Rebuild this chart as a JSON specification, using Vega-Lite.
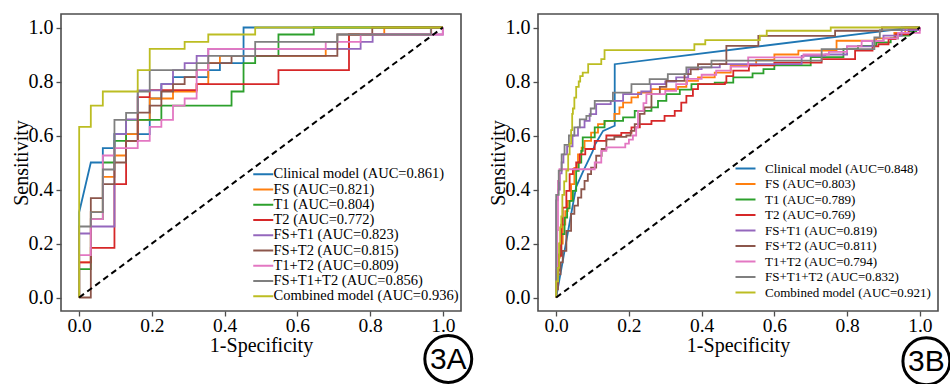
{
"$schema": "https://vega.github.io/schema/vega-lite/v6.json",
"padding": {"left": 10, "top": 13, "right": 0, "bottom": 0},
"bounds": "flush",
"spacing": 77,
"background": "white",
"config": {
  "view": {"stroke": "#4d4d4d", "strokeWidth": 1.6},
  "axis": {"labelFont": "Liberation Serif", "labelFontSize": 20, "labelColor": "black", "titleFont": "Liberation Serif", "titleFontSize": 20, "titleFontWeight": "normal", "titleColor": "black", "grid": false, "domain": false, "tickColor": "#4d4d4d", "tickSize": 5, "tickWidth": 1.3, "labelPadding": 3},
  "axisX": {"labelPadding": 0, "labelFontSize": 19.5},
  "legend": {"labelFont": "Liberation Serif", "labelColor": "black", "padding": 0, "labelLimit": 400, "symbolType": "M-2,0H2", "symbolSize": 100, "symbolStrokeWidth": 2}
},
"datasets": {
  "rocA": [
    {"model":"Clinical model (AUC=0.861)","fpr":0,"tpr":0},{"model":"Clinical model (AUC=0.861)","fpr":0,"tpr":0.316},{"model":"Clinical model (AUC=0.861)","fpr":0.032,"tpr":0.5},{"model":"Clinical model (AUC=0.861)","fpr":0.065,"tpr":0.5},{"model":"Clinical model (AUC=0.861)","fpr":0.065,"tpr":0.553},{"model":"Clinical model (AUC=0.861)","fpr":0.097,"tpr":0.553},{"model":"Clinical model (AUC=0.861)","fpr":0.097,"tpr":0.605},{"model":"Clinical model (AUC=0.861)","fpr":0.194,"tpr":0.605},{"model":"Clinical model (AUC=0.861)","fpr":0.194,"tpr":0.737},{"model":"Clinical model (AUC=0.861)","fpr":0.226,"tpr":0.737},{"model":"Clinical model (AUC=0.861)","fpr":0.226,"tpr":0.79},{"model":"Clinical model (AUC=0.861)","fpr":0.258,"tpr":0.79},{"model":"Clinical model (AUC=0.861)","fpr":0.258,"tpr":0.816},{"model":"Clinical model (AUC=0.861)","fpr":0.355,"tpr":0.816},{"model":"Clinical model (AUC=0.861)","fpr":0.355,"tpr":0.842},{"model":"Clinical model (AUC=0.861)","fpr":0.387,"tpr":0.842},{"model":"Clinical model (AUC=0.861)","fpr":0.387,"tpr":0.868},{"model":"Clinical model (AUC=0.861)","fpr":0.452,"tpr":0.868},{"model":"Clinical model (AUC=0.861)","fpr":0.452,"tpr":1},{"model":"Clinical model (AUC=0.861)","fpr":1,"tpr":1},
    {"model":"FS (AUC=0.821)","fpr":0,"tpr":0},{"model":"FS (AUC=0.821)","fpr":0,"tpr":0.13},{"model":"FS (AUC=0.821)","fpr":0.032,"tpr":0.316},{"model":"FS (AUC=0.821)","fpr":0.065,"tpr":0.447},{"model":"FS (AUC=0.821)","fpr":0.097,"tpr":0.526},{"model":"FS (AUC=0.821)","fpr":0.129,"tpr":0.605},{"model":"FS (AUC=0.821)","fpr":0.161,"tpr":0.658},{"model":"FS (AUC=0.821)","fpr":0.194,"tpr":0.737},{"model":"FS (AUC=0.821)","fpr":0.258,"tpr":0.763},{"model":"FS (AUC=0.821)","fpr":0.323,"tpr":0.79},{"model":"FS (AUC=0.821)","fpr":0.355,"tpr":0.868},{"model":"FS (AUC=0.821)","fpr":0.387,"tpr":0.895},{"model":"FS (AUC=0.821)","fpr":0.678,"tpr":0.921},{"model":"FS (AUC=0.821)","fpr":0.742,"tpr":0.974},{"model":"FS (AUC=0.821)","fpr":0.839,"tpr":1},{"model":"FS (AUC=0.821)","fpr":1,"tpr":1},
    {"model":"T1 (AUC=0.804)","fpr":0,"tpr":0},{"model":"T1 (AUC=0.804)","fpr":0,"tpr":0.105},{"model":"T1 (AUC=0.804)","fpr":0.032,"tpr":0.29},{"model":"T1 (AUC=0.804)","fpr":0.065,"tpr":0.5},{"model":"T1 (AUC=0.804)","fpr":0.097,"tpr":0.58},{"model":"T1 (AUC=0.804)","fpr":0.129,"tpr":0.658},{"model":"T1 (AUC=0.804)","fpr":0.226,"tpr":0.711},{"model":"T1 (AUC=0.804)","fpr":0.419,"tpr":0.763},{"model":"T1 (AUC=0.804)","fpr":0.452,"tpr":0.868},{"model":"T1 (AUC=0.804)","fpr":0.484,"tpr":0.895},{"model":"T1 (AUC=0.804)","fpr":0.548,"tpr":0.974},{"model":"T1 (AUC=0.804)","fpr":0.645,"tpr":1},{"model":"T1 (AUC=0.804)","fpr":1,"tpr":1},
    {"model":"T2 (AUC=0.772)","fpr":0,"tpr":0},{"model":"T2 (AUC=0.772)","fpr":0,"tpr":0.13},{"model":"T2 (AUC=0.772)","fpr":0.032,"tpr":0.184},{"model":"T2 (AUC=0.772)","fpr":0.097,"tpr":0.42},{"model":"T2 (AUC=0.772)","fpr":0.129,"tpr":0.58},{"model":"T2 (AUC=0.772)","fpr":0.161,"tpr":0.742},{"model":"T2 (AUC=0.772)","fpr":0.194,"tpr":0.768},{"model":"T2 (AUC=0.772)","fpr":0.323,"tpr":0.79},{"model":"T2 (AUC=0.772)","fpr":0.548,"tpr":0.842},{"model":"T2 (AUC=0.772)","fpr":0.742,"tpr":0.974},{"model":"T2 (AUC=0.772)","fpr":0.968,"tpr":1},{"model":"T2 (AUC=0.772)","fpr":1,"tpr":1},
    {"model":"FS+T1 (AUC=0.823)","fpr":0,"tpr":0},{"model":"FS+T1 (AUC=0.823)","fpr":0,"tpr":0.237},{"model":"FS+T1 (AUC=0.823)","fpr":0.032,"tpr":0.263},{"model":"FS+T1 (AUC=0.823)","fpr":0.097,"tpr":0.605},{"model":"FS+T1 (AUC=0.823)","fpr":0.129,"tpr":0.66},{"model":"FS+T1 (AUC=0.823)","fpr":0.161,"tpr":0.767},{"model":"FS+T1 (AUC=0.823)","fpr":0.226,"tpr":0.79},{"model":"FS+T1 (AUC=0.823)","fpr":0.258,"tpr":0.842},{"model":"FS+T1 (AUC=0.823)","fpr":0.29,"tpr":0.868},{"model":"FS+T1 (AUC=0.823)","fpr":0.323,"tpr":0.895},{"model":"FS+T1 (AUC=0.823)","fpr":0.355,"tpr":0.921},{"model":"FS+T1 (AUC=0.823)","fpr":0.774,"tpr":0.947},{"model":"FS+T1 (AUC=0.823)","fpr":0.807,"tpr":0.974},{"model":"FS+T1 (AUC=0.823)","fpr":1,"tpr":1},
    {"model":"FS+T2 (AUC=0.815)","fpr":0,"tpr":0},{"model":"FS+T2 (AUC=0.815)","fpr":0.032,"tpr":0.368},{"model":"FS+T2 (AUC=0.815)","fpr":0.065,"tpr":0.42},{"model":"FS+T2 (AUC=0.815)","fpr":0.097,"tpr":0.5},{"model":"FS+T2 (AUC=0.815)","fpr":0.129,"tpr":0.58},{"model":"FS+T2 (AUC=0.815)","fpr":0.161,"tpr":0.685},{"model":"FS+T2 (AUC=0.815)","fpr":0.194,"tpr":0.711},{"model":"FS+T2 (AUC=0.815)","fpr":0.226,"tpr":0.763},{"model":"FS+T2 (AUC=0.815)","fpr":0.258,"tpr":0.79},{"model":"FS+T2 (AUC=0.815)","fpr":0.29,"tpr":0.816},{"model":"FS+T2 (AUC=0.815)","fpr":0.323,"tpr":0.842},{"model":"FS+T2 (AUC=0.815)","fpr":0.355,"tpr":0.868},{"model":"FS+T2 (AUC=0.815)","fpr":0.419,"tpr":0.895},{"model":"FS+T2 (AUC=0.815)","fpr":0.71,"tpr":0.974},{"model":"FS+T2 (AUC=0.815)","fpr":0.806,"tpr":1},{"model":"FS+T2 (AUC=0.815)","fpr":1,"tpr":1},
    {"model":"T1+T2 (AUC=0.809)","fpr":0,"tpr":0},{"model":"T1+T2 (AUC=0.809)","fpr":0,"tpr":0.157},{"model":"T1+T2 (AUC=0.809)","fpr":0.032,"tpr":0.29},{"model":"T1+T2 (AUC=0.809)","fpr":0.065,"tpr":0.526},{"model":"T1+T2 (AUC=0.809)","fpr":0.097,"tpr":0.553},{"model":"T1+T2 (AUC=0.809)","fpr":0.161,"tpr":0.58},{"model":"T1+T2 (AUC=0.809)","fpr":0.194,"tpr":0.632},{"model":"T1+T2 (AUC=0.809)","fpr":0.226,"tpr":0.658},{"model":"T1+T2 (AUC=0.809)","fpr":0.258,"tpr":0.711},{"model":"T1+T2 (AUC=0.809)","fpr":0.29,"tpr":0.737},{"model":"T1+T2 (AUC=0.809)","fpr":0.323,"tpr":0.842},{"model":"T1+T2 (AUC=0.809)","fpr":0.355,"tpr":0.921},{"model":"T1+T2 (AUC=0.809)","fpr":0.678,"tpr":0.947},{"model":"T1+T2 (AUC=0.809)","fpr":0.774,"tpr":0.974},{"model":"T1+T2 (AUC=0.809)","fpr":1,"tpr":1},
    {"model":"FS+T1+T2 (AUC=0.856)","fpr":0,"tpr":0},{"model":"FS+T1+T2 (AUC=0.856)","fpr":0,"tpr":0.263},{"model":"FS+T1+T2 (AUC=0.856)","fpr":0.032,"tpr":0.316},{"model":"FS+T1+T2 (AUC=0.856)","fpr":0.065,"tpr":0.474},{"model":"FS+T1+T2 (AUC=0.856)","fpr":0.097,"tpr":0.658},{"model":"FS+T1+T2 (AUC=0.856)","fpr":0.129,"tpr":0.684},{"model":"FS+T1+T2 (AUC=0.856)","fpr":0.161,"tpr":0.763},{"model":"FS+T1+T2 (AUC=0.856)","fpr":0.194,"tpr":0.842},{"model":"FS+T1+T2 (AUC=0.856)","fpr":0.323,"tpr":0.868},{"model":"FS+T1+T2 (AUC=0.856)","fpr":0.355,"tpr":0.895},{"model":"FS+T1+T2 (AUC=0.856)","fpr":0.484,"tpr":0.947},{"model":"FS+T1+T2 (AUC=0.856)","fpr":0.71,"tpr":0.974},{"model":"FS+T1+T2 (AUC=0.856)","fpr":0.967,"tpr":1},{"model":"FS+T1+T2 (AUC=0.856)","fpr":1,"tpr":1},
    {"model":"Combined model (AUC=0.936)","fpr":0,"tpr":0},{"model":"Combined model (AUC=0.936)","fpr":0,"tpr":0.632},{"model":"Combined model (AUC=0.936)","fpr":0.032,"tpr":0.711},{"model":"Combined model (AUC=0.936)","fpr":0.065,"tpr":0.763},{"model":"Combined model (AUC=0.936)","fpr":0.161,"tpr":0.842},{"model":"Combined model (AUC=0.936)","fpr":0.194,"tpr":0.921},{"model":"Combined model (AUC=0.936)","fpr":0.29,"tpr":0.947},{"model":"Combined model (AUC=0.936)","fpr":0.355,"tpr":0.974},{"model":"Combined model (AUC=0.936)","fpr":0.484,"tpr":1},{"model":"Combined model (AUC=0.936)","fpr":1,"tpr":1}
  ],
  "rocB": [
    {"model":"Clinical model (AUC=0.848)","fpr":0,"tpr":0},{"model":"Clinical model (AUC=0.848)","fpr":0.02,"tpr":0.15},{"model":"Clinical model (AUC=0.848)","fpr":0.04,"tpr":0.3},{"model":"Clinical model (AUC=0.848)","fpr":0.055,"tpr":0.41},{"model":"Clinical model (AUC=0.848)","fpr":0.075,"tpr":0.47},{"model":"Clinical model (AUC=0.848)","fpr":0.1,"tpr":0.54},{"model":"Clinical model (AUC=0.848)","fpr":0.106,"tpr":0.565},{"model":"Clinical model (AUC=0.848)","fpr":0.129,"tpr":0.617},{"model":"Clinical model (AUC=0.848)","fpr":0.161,"tpr":0.636},{"model":"Clinical model (AUC=0.848)","fpr":0.161,"tpr":0.864},{"model":"Clinical model (AUC=0.848)","fpr":0.96,"tpr":0.997},{"model":"Clinical model (AUC=0.848)","fpr":1,"tpr":1},
    {"model":"FS (AUC=0.803)","fpr":0,"tpr":0},{"model":"FS (AUC=0.803)","fpr":0,"tpr":0.1},{"model":"FS (AUC=0.803)","fpr":0.005,"tpr":0.148},{"model":"FS (AUC=0.803)","fpr":0.01,"tpr":0.2},{"model":"FS (AUC=0.803)","fpr":0.018,"tpr":0.27},{"model":"FS (AUC=0.803)","fpr":0.025,"tpr":0.32},{"model":"FS (AUC=0.803)","fpr":0.032,"tpr":0.358},{"model":"FS (AUC=0.803)","fpr":0.041,"tpr":0.42},{"model":"FS (AUC=0.803)","fpr":0.05,"tpr":0.48},{"model":"FS (AUC=0.803)","fpr":0.06,"tpr":0.53},{"model":"FS (AUC=0.803)","fpr":0.07,"tpr":0.555},{"model":"FS (AUC=0.803)","fpr":0.078,"tpr":0.58},{"model":"FS (AUC=0.803)","fpr":0.096,"tpr":0.611},{"model":"FS (AUC=0.803)","fpr":0.115,"tpr":0.642},{"model":"FS (AUC=0.803)","fpr":0.133,"tpr":0.654},{"model":"FS (AUC=0.803)","fpr":0.16,"tpr":0.68},{"model":"FS (AUC=0.803)","fpr":0.174,"tpr":0.704},{"model":"FS (AUC=0.803)","fpr":0.184,"tpr":0.722},{"model":"FS (AUC=0.803)","fpr":0.207,"tpr":0.741},{"model":"FS (AUC=0.803)","fpr":0.225,"tpr":0.759},{"model":"FS (AUC=0.803)","fpr":0.262,"tpr":0.772},{"model":"FS (AUC=0.803)","fpr":0.335,"tpr":0.78},{"model":"FS (AUC=0.803)","fpr":0.358,"tpr":0.802},{"model":"FS (AUC=0.803)","fpr":0.39,"tpr":0.815},{"model":"FS (AUC=0.803)","fpr":0.436,"tpr":0.833},{"model":"FS (AUC=0.803)","fpr":0.48,"tpr":0.86},{"model":"FS (AUC=0.803)","fpr":0.55,"tpr":0.88},{"model":"FS (AUC=0.803)","fpr":0.6,"tpr":0.9},{"model":"FS (AUC=0.803)","fpr":0.666,"tpr":0.914},{"model":"FS (AUC=0.803)","fpr":0.771,"tpr":0.951},{"model":"FS (AUC=0.803)","fpr":0.88,"tpr":0.96},{"model":"FS (AUC=0.803)","fpr":0.93,"tpr":0.98},{"model":"FS (AUC=0.803)","fpr":0.96,"tpr":1},{"model":"FS (AUC=0.803)","fpr":1,"tpr":1},
    {"model":"T1 (AUC=0.789)","fpr":0,"tpr":0},{"model":"T1 (AUC=0.789)","fpr":0,"tpr":0.1},{"model":"T1 (AUC=0.789)","fpr":0.007,"tpr":0.16},{"model":"T1 (AUC=0.789)","fpr":0.014,"tpr":0.235},{"model":"T1 (AUC=0.789)","fpr":0.023,"tpr":0.296},{"model":"T1 (AUC=0.789)","fpr":0.03,"tpr":0.33},{"model":"T1 (AUC=0.789)","fpr":0.037,"tpr":0.358},{"model":"T1 (AUC=0.789)","fpr":0.046,"tpr":0.395},{"model":"T1 (AUC=0.789)","fpr":0.055,"tpr":0.469},{"model":"T1 (AUC=0.789)","fpr":0.062,"tpr":0.5},{"model":"T1 (AUC=0.789)","fpr":0.069,"tpr":0.543},{"model":"T1 (AUC=0.789)","fpr":0.073,"tpr":0.593},{"model":"T1 (AUC=0.789)","fpr":0.106,"tpr":0.63},{"model":"T1 (AUC=0.789)","fpr":0.133,"tpr":0.654},{"model":"T1 (AUC=0.789)","fpr":0.184,"tpr":0.667},{"model":"T1 (AUC=0.789)","fpr":0.216,"tpr":0.691},{"model":"T1 (AUC=0.789)","fpr":0.262,"tpr":0.704},{"model":"T1 (AUC=0.789)","fpr":0.28,"tpr":0.728},{"model":"T1 (AUC=0.789)","fpr":0.303,"tpr":0.753},{"model":"T1 (AUC=0.789)","fpr":0.34,"tpr":0.77},{"model":"T1 (AUC=0.789)","fpr":0.372,"tpr":0.79},{"model":"T1 (AUC=0.789)","fpr":0.436,"tpr":0.796},{"model":"T1 (AUC=0.789)","fpr":0.487,"tpr":0.815},{"model":"T1 (AUC=0.789)","fpr":0.54,"tpr":0.83},{"model":"T1 (AUC=0.789)","fpr":0.57,"tpr":0.846},{"model":"T1 (AUC=0.789)","fpr":0.6,"tpr":0.86},{"model":"T1 (AUC=0.789)","fpr":0.7,"tpr":0.89},{"model":"T1 (AUC=0.789)","fpr":0.79,"tpr":0.92},{"model":"T1 (AUC=0.789)","fpr":0.83,"tpr":0.932},{"model":"T1 (AUC=0.789)","fpr":0.88,"tpr":0.945},{"model":"T1 (AUC=0.789)","fpr":0.92,"tpr":0.96},{"model":"T1 (AUC=0.789)","fpr":0.94,"tpr":0.97},{"model":"T1 (AUC=0.789)","fpr":0.97,"tpr":0.985},{"model":"T1 (AUC=0.789)","fpr":0.99,"tpr":1},{"model":"T1 (AUC=0.789)","fpr":1,"tpr":1},
    {"model":"T2 (AUC=0.769)","fpr":0,"tpr":0},{"model":"T2 (AUC=0.769)","fpr":0,"tpr":0.05},{"model":"T2 (AUC=0.769)","fpr":0.005,"tpr":0.1},{"model":"T2 (AUC=0.769)","fpr":0.007,"tpr":0.154},{"model":"T2 (AUC=0.769)","fpr":0.014,"tpr":0.27},{"model":"T2 (AUC=0.769)","fpr":0.018,"tpr":0.333},{"model":"T2 (AUC=0.769)","fpr":0.028,"tpr":0.395},{"model":"T2 (AUC=0.769)","fpr":0.037,"tpr":0.457},{"model":"T2 (AUC=0.769)","fpr":0.046,"tpr":0.475},{"model":"T2 (AUC=0.769)","fpr":0.055,"tpr":0.5},{"model":"T2 (AUC=0.769)","fpr":0.065,"tpr":0.53},{"model":"T2 (AUC=0.769)","fpr":0.08,"tpr":0.55},{"model":"T2 (AUC=0.769)","fpr":0.106,"tpr":0.58},{"model":"T2 (AUC=0.769)","fpr":0.138,"tpr":0.6},{"model":"T2 (AUC=0.769)","fpr":0.179,"tpr":0.61},{"model":"T2 (AUC=0.769)","fpr":0.207,"tpr":0.63},{"model":"T2 (AUC=0.769)","fpr":0.23,"tpr":0.642},{"model":"T2 (AUC=0.769)","fpr":0.262,"tpr":0.654},{"model":"T2 (AUC=0.769)","fpr":0.298,"tpr":0.673},{"model":"T2 (AUC=0.769)","fpr":0.326,"tpr":0.691},{"model":"T2 (AUC=0.769)","fpr":0.344,"tpr":0.722},{"model":"T2 (AUC=0.769)","fpr":0.358,"tpr":0.747},{"model":"T2 (AUC=0.769)","fpr":0.376,"tpr":0.772},{"model":"T2 (AUC=0.769)","fpr":0.39,"tpr":0.79},{"model":"T2 (AUC=0.769)","fpr":0.464,"tpr":0.796},{"model":"T2 (AUC=0.769)","fpr":0.468,"tpr":0.82},{"model":"T2 (AUC=0.769)","fpr":0.487,"tpr":0.84},{"model":"T2 (AUC=0.769)","fpr":0.53,"tpr":0.86},{"model":"T2 (AUC=0.769)","fpr":0.6,"tpr":0.87},{"model":"T2 (AUC=0.769)","fpr":0.73,"tpr":0.883},{"model":"T2 (AUC=0.769)","fpr":0.822,"tpr":0.914},{"model":"T2 (AUC=0.769)","fpr":0.87,"tpr":0.93},{"model":"T2 (AUC=0.769)","fpr":0.886,"tpr":0.938},{"model":"T2 (AUC=0.769)","fpr":0.914,"tpr":0.957},{"model":"T2 (AUC=0.769)","fpr":0.933,"tpr":0.975},{"model":"T2 (AUC=0.769)","fpr":0.969,"tpr":0.994},{"model":"T2 (AUC=0.769)","fpr":1,"tpr":1},
    {"model":"FS+T1 (AUC=0.819)","fpr":0,"tpr":0},{"model":"FS+T1 (AUC=0.819)","fpr":0,"tpr":0.36},{"model":"FS+T1 (AUC=0.819)","fpr":0.005,"tpr":0.4},{"model":"FS+T1 (AUC=0.819)","fpr":0.01,"tpr":0.46},{"model":"FS+T1 (AUC=0.819)","fpr":0.015,"tpr":0.5},{"model":"FS+T1 (AUC=0.819)","fpr":0.02,"tpr":0.53},{"model":"FS+T1 (AUC=0.819)","fpr":0.03,"tpr":0.56},{"model":"FS+T1 (AUC=0.819)","fpr":0.045,"tpr":0.6},{"model":"FS+T1 (AUC=0.819)","fpr":0.06,"tpr":0.63},{"model":"FS+T1 (AUC=0.819)","fpr":0.078,"tpr":0.654},{"model":"FS+T1 (AUC=0.819)","fpr":0.092,"tpr":0.679},{"model":"FS+T1 (AUC=0.819)","fpr":0.11,"tpr":0.716},{"model":"FS+T1 (AUC=0.819)","fpr":0.15,"tpr":0.728},{"model":"FS+T1 (AUC=0.819)","fpr":0.184,"tpr":0.753},{"model":"FS+T1 (AUC=0.819)","fpr":0.234,"tpr":0.763},{"model":"FS+T1 (AUC=0.819)","fpr":0.26,"tpr":0.79},{"model":"FS+T1 (AUC=0.819)","fpr":0.3,"tpr":0.8},{"model":"FS+T1 (AUC=0.819)","fpr":0.33,"tpr":0.815},{"model":"FS+T1 (AUC=0.819)","fpr":0.363,"tpr":0.846},{"model":"FS+T1 (AUC=0.819)","fpr":0.4,"tpr":0.852},{"model":"FS+T1 (AUC=0.819)","fpr":0.45,"tpr":0.864},{"model":"FS+T1 (AUC=0.819)","fpr":0.666,"tpr":0.864},{"model":"FS+T1 (AUC=0.819)","fpr":0.675,"tpr":0.895},{"model":"FS+T1 (AUC=0.819)","fpr":0.74,"tpr":0.9},{"model":"FS+T1 (AUC=0.819)","fpr":0.8,"tpr":0.93},{"model":"FS+T1 (AUC=0.819)","fpr":0.87,"tpr":0.95},{"model":"FS+T1 (AUC=0.819)","fpr":0.9,"tpr":0.97},{"model":"FS+T1 (AUC=0.819)","fpr":0.95,"tpr":0.99},{"model":"FS+T1 (AUC=0.819)","fpr":1,"tpr":1},
    {"model":"FS+T2 (AUC=0.811)","fpr":0,"tpr":0},{"model":"FS+T2 (AUC=0.811)","fpr":0,"tpr":0.03},{"model":"FS+T2 (AUC=0.811)","fpr":0.005,"tpr":0.086},{"model":"FS+T2 (AUC=0.811)","fpr":0.012,"tpr":0.13},{"model":"FS+T2 (AUC=0.811)","fpr":0.018,"tpr":0.173},{"model":"FS+T2 (AUC=0.811)","fpr":0.028,"tpr":0.247},{"model":"FS+T2 (AUC=0.811)","fpr":0.041,"tpr":0.31},{"model":"FS+T2 (AUC=0.811)","fpr":0.05,"tpr":0.34},{"model":"FS+T2 (AUC=0.811)","fpr":0.06,"tpr":0.37},{"model":"FS+T2 (AUC=0.811)","fpr":0.069,"tpr":0.401},{"model":"FS+T2 (AUC=0.811)","fpr":0.078,"tpr":0.432},{"model":"FS+T2 (AUC=0.811)","fpr":0.087,"tpr":0.457},{"model":"FS+T2 (AUC=0.811)","fpr":0.096,"tpr":0.481},{"model":"FS+T2 (AUC=0.811)","fpr":0.11,"tpr":0.525},{"model":"FS+T2 (AUC=0.811)","fpr":0.125,"tpr":0.55},{"model":"FS+T2 (AUC=0.811)","fpr":0.138,"tpr":0.586},{"model":"FS+T2 (AUC=0.811)","fpr":0.16,"tpr":0.595},{"model":"FS+T2 (AUC=0.811)","fpr":0.193,"tpr":0.6},{"model":"FS+T2 (AUC=0.811)","fpr":0.205,"tpr":0.617},{"model":"FS+T2 (AUC=0.811)","fpr":0.216,"tpr":0.642},{"model":"FS+T2 (AUC=0.811)","fpr":0.23,"tpr":0.68},{"model":"FS+T2 (AUC=0.811)","fpr":0.243,"tpr":0.704},{"model":"FS+T2 (AUC=0.811)","fpr":0.262,"tpr":0.753},{"model":"FS+T2 (AUC=0.811)","fpr":0.285,"tpr":0.78},{"model":"FS+T2 (AUC=0.811)","fpr":0.303,"tpr":0.802},{"model":"FS+T2 (AUC=0.811)","fpr":0.353,"tpr":0.827},{"model":"FS+T2 (AUC=0.811)","fpr":0.37,"tpr":0.845},{"model":"FS+T2 (AUC=0.811)","fpr":0.39,"tpr":0.864},{"model":"FS+T2 (AUC=0.811)","fpr":0.468,"tpr":0.932},{"model":"FS+T2 (AUC=0.811)","fpr":0.556,"tpr":0.969},{"model":"FS+T2 (AUC=0.811)","fpr":0.767,"tpr":0.988},{"model":"FS+T2 (AUC=0.811)","fpr":0.896,"tpr":1},{"model":"FS+T2 (AUC=0.811)","fpr":1,"tpr":1},
    {"model":"T1+T2 (AUC=0.794)","fpr":0,"tpr":0},{"model":"T1+T2 (AUC=0.794)","fpr":0,"tpr":0.1},{"model":"T1+T2 (AUC=0.794)","fpr":0.003,"tpr":0.25},{"model":"T1+T2 (AUC=0.794)","fpr":0.005,"tpr":0.432},{"model":"T1+T2 (AUC=0.794)","fpr":0.009,"tpr":0.475},{"model":"T1+T2 (AUC=0.794)","fpr":0.106,"tpr":0.5},{"model":"T1+T2 (AUC=0.794)","fpr":0.124,"tpr":0.543},{"model":"T1+T2 (AUC=0.794)","fpr":0.138,"tpr":0.556},{"model":"T1+T2 (AUC=0.794)","fpr":0.19,"tpr":0.57},{"model":"T1+T2 (AUC=0.794)","fpr":0.2,"tpr":0.585},{"model":"T1+T2 (AUC=0.794)","fpr":0.211,"tpr":0.6},{"model":"T1+T2 (AUC=0.794)","fpr":0.22,"tpr":0.63},{"model":"T1+T2 (AUC=0.794)","fpr":0.225,"tpr":0.691},{"model":"T1+T2 (AUC=0.794)","fpr":0.24,"tpr":0.72},{"model":"T1+T2 (AUC=0.794)","fpr":0.248,"tpr":0.753},{"model":"T1+T2 (AUC=0.794)","fpr":0.3,"tpr":0.765},{"model":"T1+T2 (AUC=0.794)","fpr":0.33,"tpr":0.79},{"model":"T1+T2 (AUC=0.794)","fpr":0.36,"tpr":0.81},{"model":"T1+T2 (AUC=0.794)","fpr":0.4,"tpr":0.825},{"model":"T1+T2 (AUC=0.794)","fpr":0.44,"tpr":0.84},{"model":"T1+T2 (AUC=0.794)","fpr":0.48,"tpr":0.855},{"model":"T1+T2 (AUC=0.794)","fpr":0.528,"tpr":0.889},{"model":"T1+T2 (AUC=0.794)","fpr":0.68,"tpr":0.9},{"model":"T1+T2 (AUC=0.794)","fpr":0.75,"tpr":0.91},{"model":"T1+T2 (AUC=0.794)","fpr":0.8,"tpr":0.93},{"model":"T1+T2 (AUC=0.794)","fpr":0.84,"tpr":0.95},{"model":"T1+T2 (AUC=0.794)","fpr":0.9,"tpr":0.96},{"model":"T1+T2 (AUC=0.794)","fpr":0.94,"tpr":0.98},{"model":"T1+T2 (AUC=0.794)","fpr":1,"tpr":1},
    {"model":"FS+T1+T2 (AUC=0.832)","fpr":0,"tpr":0},{"model":"FS+T1+T2 (AUC=0.832)","fpr":0,"tpr":0.38},{"model":"FS+T1+T2 (AUC=0.832)","fpr":0.007,"tpr":0.47},{"model":"FS+T1+T2 (AUC=0.832)","fpr":0.015,"tpr":0.53},{"model":"FS+T1+T2 (AUC=0.832)","fpr":0.023,"tpr":0.565},{"model":"FS+T1+T2 (AUC=0.832)","fpr":0.035,"tpr":0.6},{"model":"FS+T1+T2 (AUC=0.832)","fpr":0.05,"tpr":0.63},{"model":"FS+T1+T2 (AUC=0.832)","fpr":0.065,"tpr":0.66},{"model":"FS+T1+T2 (AUC=0.832)","fpr":0.083,"tpr":0.673},{"model":"FS+T1+T2 (AUC=0.832)","fpr":0.095,"tpr":0.7},{"model":"FS+T1+T2 (AUC=0.832)","fpr":0.106,"tpr":0.728},{"model":"FS+T1+T2 (AUC=0.832)","fpr":0.156,"tpr":0.759},{"model":"FS+T1+T2 (AUC=0.832)","fpr":0.207,"tpr":0.79},{"model":"FS+T1+T2 (AUC=0.832)","fpr":0.257,"tpr":0.809},{"model":"FS+T1+T2 (AUC=0.832)","fpr":0.307,"tpr":0.827},{"model":"FS+T1+T2 (AUC=0.832)","fpr":0.358,"tpr":0.852},{"model":"FS+T1+T2 (AUC=0.832)","fpr":0.427,"tpr":0.877},{"model":"FS+T1+T2 (AUC=0.832)","fpr":0.73,"tpr":0.92},{"model":"FS+T1+T2 (AUC=0.832)","fpr":0.875,"tpr":0.963},{"model":"FS+T1+T2 (AUC=0.832)","fpr":0.89,"tpr":0.99},{"model":"FS+T1+T2 (AUC=0.832)","fpr":0.95,"tpr":1},{"model":"FS+T1+T2 (AUC=0.832)","fpr":1,"tpr":1},
    {"model":"Combined model (AUC=0.921)","fpr":0,"tpr":0},{"model":"Combined model (AUC=0.921)","fpr":0,"tpr":0.06},{"model":"Combined model (AUC=0.921)","fpr":0.005,"tpr":0.11},{"model":"Combined model (AUC=0.921)","fpr":0.008,"tpr":0.2},{"model":"Combined model (AUC=0.921)","fpr":0.011,"tpr":0.26},{"model":"Combined model (AUC=0.921)","fpr":0.014,"tpr":0.3},{"model":"Combined model (AUC=0.921)","fpr":0.017,"tpr":0.38},{"model":"Combined model (AUC=0.921)","fpr":0.022,"tpr":0.43},{"model":"Combined model (AUC=0.921)","fpr":0.028,"tpr":0.47},{"model":"Combined model (AUC=0.921)","fpr":0.033,"tpr":0.53},{"model":"Combined model (AUC=0.921)","fpr":0.037,"tpr":0.57},{"model":"Combined model (AUC=0.921)","fpr":0.041,"tpr":0.62},{"model":"Combined model (AUC=0.921)","fpr":0.044,"tpr":0.68},{"model":"Combined model (AUC=0.921)","fpr":0.046,"tpr":0.7},{"model":"Combined model (AUC=0.921)","fpr":0.05,"tpr":0.74},{"model":"Combined model (AUC=0.921)","fpr":0.055,"tpr":0.78},{"model":"Combined model (AUC=0.921)","fpr":0.062,"tpr":0.8},{"model":"Combined model (AUC=0.921)","fpr":0.066,"tpr":0.82},{"model":"Combined model (AUC=0.921)","fpr":0.073,"tpr":0.833},{"model":"Combined model (AUC=0.921)","fpr":0.088,"tpr":0.864},{"model":"Combined model (AUC=0.921)","fpr":0.124,"tpr":0.883},{"model":"Combined model (AUC=0.921)","fpr":0.133,"tpr":0.916},{"model":"Combined model (AUC=0.921)","fpr":0.38,"tpr":0.938},{"model":"Combined model (AUC=0.921)","fpr":0.41,"tpr":0.953},{"model":"Combined model (AUC=0.921)","fpr":0.56,"tpr":0.97},{"model":"Combined model (AUC=0.921)","fpr":0.579,"tpr":0.988},{"model":"Combined model (AUC=0.921)","fpr":0.755,"tpr":1},{"model":"Combined model (AUC=0.921)","fpr":1,"tpr":1}
  ],
  "diag": [{"fpr":0,"tpr":0},{"fpr":1,"tpr":1}],
  "tagA": [{"tag":"3A"}],
  "tagB": [{"tag":"3B"}]
},
"resolve": {"scale": {"color": "independent"}, "legend": {"color": "independent"}},
"hconcat": [
  {
    "width": 400, "height": 297,
    "layer": [
      {
        "data": {"name": "rocA"},
        "transform": [{"filter": "indexof(datum.model, 'Clinical') == 0"}],
        "mark": {"type": "line", "strokeWidth": 1.8, "interpolate": "linear"},
        "encoding": {
          "x": {"field": "fpr", "type": "quantitative", "scale": {"domain": [-0.05, 1.05], "nice": false, "zero": false}, "axis": {"title": "1-Specificity", "values": [0, 0.2, 0.4, 0.6, 0.8, 1.0], "format": ".1f", "titlePadding": 1}},
          "y": {"field": "tpr", "type": "quantitative", "scale": {"domain": [-0.05, 1.05], "nice": false, "zero": false}, "axis": {"title": "Sensitivity", "values": [0, 0.2, 0.4, 0.6, 0.8, 1.0], "format": ".1f", "titlePadding": -3}},
          "order": {"value": null},
          "color": {"field": "model", "type": "nominal", "scale": {"domain": ["Clinical model (AUC=0.861)", "FS (AUC=0.821)", "T1 (AUC=0.804)", "T2 (AUC=0.772)", "FS+T1 (AUC=0.823)", "FS+T2 (AUC=0.815)", "T1+T2 (AUC=0.809)", "FS+T1+T2 (AUC=0.856)", "Combined model (AUC=0.936)"], "range": ["#1f77b4", "#ff7f0e", "#2ca02c", "#d62728", "#9467bd", "#8c564b", "#e377c2", "#7f7f7f", "#bcbd22"]},
            "legend": {"title": null, "orient": "none", "legendX": 195, "legendY": 153, "labelFontSize": 14.5, "labelOffset": 3, "rowPadding": 0.25}}
        }
      },
      {
        "data": {"name": "rocA"},
        "transform": [{"filter": "indexof(datum.model, 'Clinical') != 0"}],
        "mark": {"type": "line", "strokeWidth": 1.8, "interpolate": "step-after"},
        "encoding": {
          "x": {"field": "fpr", "type": "quantitative", "title": "1-Specificity"},
          "y": {"field": "tpr", "type": "quantitative", "title": "Sensitivity"},
          "order": {"value": null},
          "color": {"field": "model", "type": "nominal"}
        }
      },
      {
        "data": {"name": "diag"},
        "mark": {"type": "line", "color": "black", "strokeDash": [6, 4], "strokeWidth": 2},
        "encoding": {
          "x": {"field": "fpr", "type": "quantitative", "title": "1-Specificity"},
          "y": {"field": "tpr", "type": "quantitative", "title": "Sensitivity"}
        }
      },
      {
        "data": {"name": "tagA"},
        "mark": {"type": "point", "shape": "circle", "filled": false, "size": 2200, "strokeWidth": 3, "color": "black", "opacity": 1, "clip": false},
        "encoding": {"x": {"datum": 1.015, "type": "quantitative", "title": "1-Specificity"}, "y": {"datum": -0.228, "type": "quantitative", "title": "Sensitivity"}}
      },
      {
        "data": {"name": "tagA"},
        "mark": {"type": "text", "font": "Liberation Sans", "fontSize": 30, "align": "center", "baseline": "middle", "color": "black", "dy": 1, "clip": false},
        "encoding": {"x": {"datum": 1.015, "type": "quantitative", "title": "1-Specificity"}, "y": {"datum": -0.228, "type": "quantitative", "title": "Sensitivity"}, "text": {"field": "tag"}}
      }
    ]
  },
  {
    "width": 400, "height": 297,
    "layer": [
      {
        "data": {"name": "rocB"},
        "transform": [{"filter": "indexof(datum.model, 'Clinical') == 0"}],
        "mark": {"type": "line", "strokeWidth": 1.8, "interpolate": "linear"},
        "encoding": {
          "x": {"field": "fpr", "type": "quantitative", "scale": {"domain": [-0.05, 1.05], "nice": false, "zero": false}, "axis": {"title": "1-Specificity", "values": [0, 0.2, 0.4, 0.6, 0.8, 1.0], "format": ".1f", "titlePadding": 1}},
          "y": {"field": "tpr", "type": "quantitative", "scale": {"domain": [-0.05, 1.05], "nice": false, "zero": false}, "axis": {"title": "Sensitivity", "values": [0, 0.2, 0.4, 0.6, 0.8, 1.0], "format": ".1f", "titlePadding": -3}},
          "order": {"value": null},
          "color": {"field": "model", "type": "nominal", "scale": {"domain": ["Clinical model (AUC=0.848)", "FS (AUC=0.803)", "T1 (AUC=0.789)", "T2 (AUC=0.769)", "FS+T1 (AUC=0.819)", "FS+T2 (AUC=0.811)", "T1+T2 (AUC=0.794)", "FS+T1+T2 (AUC=0.832)", "Combined model (AUC=0.921)"], "range": ["#1f77b4", "#ff7f0e", "#2ca02c", "#d62728", "#9467bd", "#8c564b", "#e377c2", "#7f7f7f", "#bcbd22"]},
            "legend": {"title": null, "orient": "none", "legendX": 201, "legendY": 148, "labelFontSize": 13, "labelOffset": 13, "rowPadding": 1.5}}
        }
      },
      {
        "data": {"name": "rocB"},
        "transform": [{"filter": "indexof(datum.model, 'Clinical') != 0"}],
        "mark": {"type": "line", "strokeWidth": 1.8, "interpolate": "step-after"},
        "encoding": {
          "x": {"field": "fpr", "type": "quantitative", "title": "1-Specificity"},
          "y": {"field": "tpr", "type": "quantitative", "title": "Sensitivity"},
          "order": {"value": null},
          "color": {"field": "model", "type": "nominal"}
        }
      },
      {
        "data": {"name": "diag"},
        "mark": {"type": "line", "color": "black", "strokeDash": [6, 4], "strokeWidth": 2},
        "encoding": {
          "x": {"field": "fpr", "type": "quantitative", "title": "1-Specificity"},
          "y": {"field": "tpr", "type": "quantitative", "title": "Sensitivity"}
        }
      },
      {
        "data": {"name": "tagB"},
        "mark": {"type": "point", "shape": "circle", "filled": false, "size": 2200, "strokeWidth": 3, "color": "black", "opacity": 1, "clip": false},
        "encoding": {"x": {"datum": 1.018, "type": "quantitative", "title": "1-Specificity"}, "y": {"datum": -0.236, "type": "quantitative", "title": "Sensitivity"}}
      },
      {
        "data": {"name": "tagB"},
        "mark": {"type": "text", "font": "Liberation Sans", "fontSize": 30, "align": "center", "baseline": "middle", "color": "black", "dy": 1, "clip": false},
        "encoding": {"x": {"datum": 1.018, "type": "quantitative", "title": "1-Specificity"}, "y": {"datum": -0.236, "type": "quantitative", "title": "Sensitivity"}, "text": {"field": "tag"}}
      }
    ]
  }
]
}
